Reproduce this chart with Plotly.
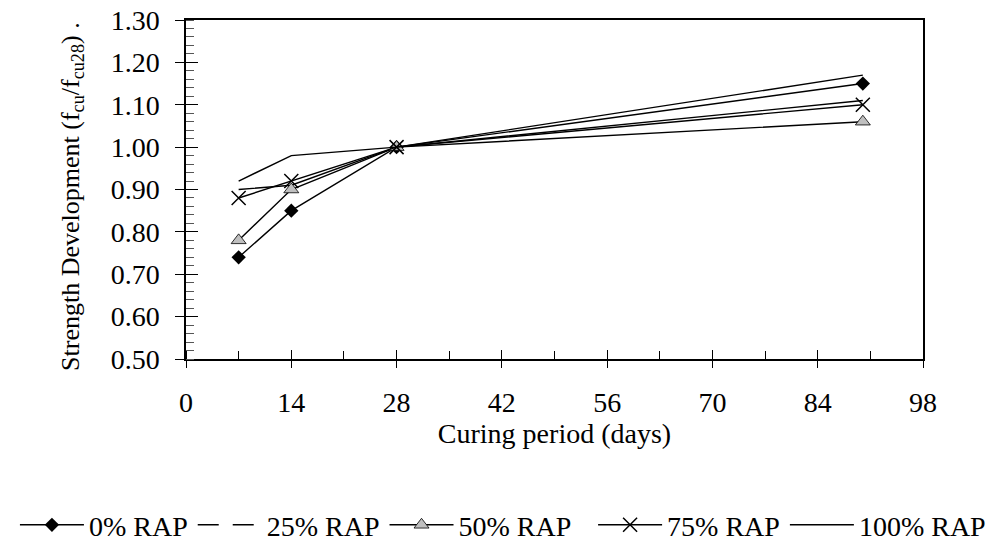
import plotly.graph_objects as go

days = [7, 14, 28, 90]
rap0 = [0.74, 0.85, 1.00, 1.15]
rap25 = [0.90, 0.91, 1.00, 1.11]
rap50 = [0.78, 0.90, 1.00, 1.06]
rap75 = [0.88, 0.92, 1.00, 1.10]
rap100 = [0.92, 0.98, 1.00, 1.17]
names = ["0% RAP", "25% RAP", "50% RAP", "75% RAP", "100% RAP"]
x_title = "Curing period (days)"
y_title = "Strength Development (f<sub>cu</sub>/f<sub>cu28</sub>) ."

FONT = "Liberation Serif, Times New Roman, serif"
FS = 28
FS_Y = 26
LW = 1.4

fig = go.Figure()

fig.add_trace(go.Scatter(x=days, y=rap0, name=names[0], mode="lines+markers",
                         line=dict(color="black", width=LW),
                         marker=dict(symbol="diamond", size=11, color="black"),
                         legend="legend", legendrank=1))
# 25% drawn solid in the plot, dashed legend entry
fig.add_trace(go.Scatter(x=days, y=rap25, name=names[1], mode="lines",
                         line=dict(color="black", width=LW), showlegend=False))
fig.add_trace(go.Scatter(x=[None], y=[None], name=names[1], mode="lines",
                         line=dict(color="black", width=LW, dash="21px,14px"),
                         legend="legend", legendrank=2))
fig.add_trace(go.Scatter(x=days, y=rap50, name=names[2], mode="lines+markers",
                         line=dict(color="black", width=LW),
                         marker=dict(symbol="triangle-up", size=13, color="#BFBFBF",
                                     line=dict(color="black", width=0.8)),
                         legend="legend", legendrank=3))
fig.add_trace(go.Scatter(x=days, y=rap75, name=names[3], mode="lines+markers",
                         line=dict(color="black", width=LW),
                         marker=dict(symbol="x-thin-open", size=14, color="black",
                                     line=dict(color="black", width=1.5)),
                         legend="legend2", legendrank=4))
fig.add_trace(go.Scatter(x=days, y=rap100, name=names[4], mode="lines",
                         line=dict(color="black", width=LW),
                         legend="legend2", legendrank=5))
# helper trace for overlay axes (inner half of major ticks)
fig.add_trace(go.Scatter(x=[None], y=[None], xaxis="x2", yaxis="y2",
                         showlegend=False, hoverinfo="skip"))

xr = [0, 98]
yr = [0.5, 1.3]

legend_common = dict(orientation="h", xref="container", xanchor="left",
                     y=-0.49, yanchor="middle",
                     font=dict(family=FONT, size=FS, color="black"),
                     itemwidth=64, tracegroupgap=0, bgcolor="rgba(0,0,0,0)")

fig.update_layout(
    width=990, height=534,
    margin=dict(l=178, r=75, t=12, b=183, autoexpand=False),
    paper_bgcolor="white", plot_bgcolor="white",
    font=dict(family=FONT, size=FS, color="black"),
    showlegend=True,
    legend=dict(x=0.007, **legend_common),
    legend2=dict(x=0.591, **legend_common),
    xaxis=dict(range=xr, tickmode="linear", tick0=0, dtick=14, automargin=False,
               ticks="outside", ticklen=7, tickwidth=1.3, tickcolor="black",
               showline=True, linecolor="black", linewidth=1.5, mirror=True,
               showgrid=False, zeroline=False,
               minor=dict(tickmode="linear", tick0=0, dtick=7, ticks="inside",
                          ticklen=8, tickwidth=1.3, tickcolor="black", showgrid=False),
               title=dict(text=x_title, font=dict(size=FS), standoff=0),
               tickfont=dict(size=FS), ticklabelstandoff=11),
    yaxis=dict(range=yr, tickmode="linear", tick0=0.5, dtick=0.1, tickformat=".2f",
               automargin=False, ticklabeloverflow="allow",
               ticks="outside", ticklen=9, tickwidth=1.3, tickcolor="black",
               showline=True, linecolor="black", linewidth=1.5, mirror=True,
               showgrid=False, zeroline=False,
               minor=dict(tickmode="linear", tick0=0.5, dtick=0.02, ticks="inside",
                          ticklen=8, tickwidth=1.3, tickcolor="#555555", showgrid=False),
               tickfont=dict(size=FS), ticklabelstandoff=10),
    xaxis2=dict(range=xr, overlaying="x", tickmode="linear", tick0=0, dtick=14,
                ticks="inside", ticklen=9, tickwidth=1.3, tickcolor="black",
                showticklabels=False, showline=False, showgrid=False, zeroline=False),
    yaxis2=dict(range=yr, overlaying="y", tickmode="linear", tick0=0.5, dtick=0.1,
                ticks="inside", ticklen=12, tickwidth=1.3, tickcolor="black",
                showticklabels=False, showline=False, showgrid=False, zeroline=False),
    annotations=[dict(text=y_title, textangle=-90, xref="paper", yref="paper",
                      x=-0.1547, y=0.481, xanchor="center", yanchor="middle",
                      showarrow=False, font=dict(family=FONT, size=FS_Y, color="black"))],
)

fig.write_html("out.html")
